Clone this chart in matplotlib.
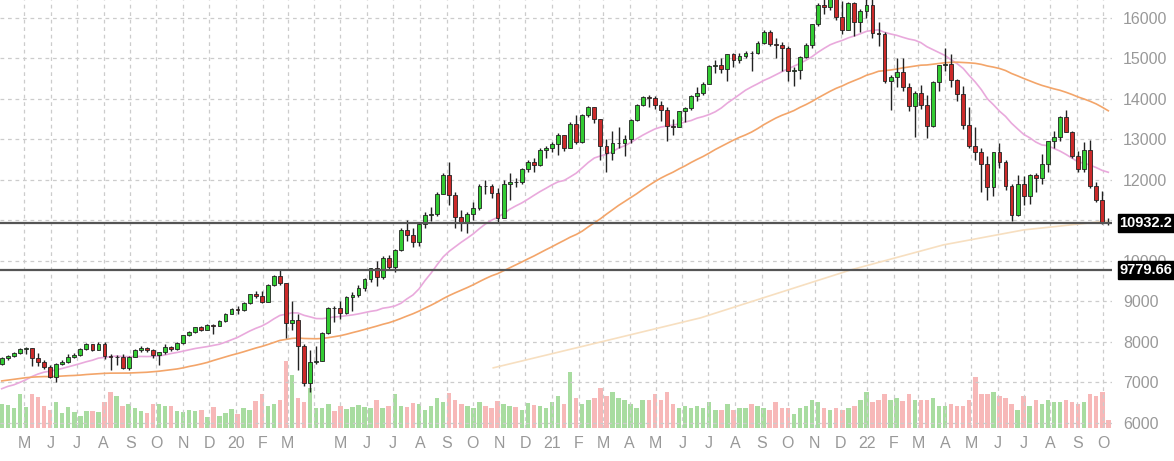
import numpy as np
import pandas as pd
import matplotlib
matplotlib.use("Agg")
import matplotlib.pyplot as plt
import matplotlib.dates as mdates

plt.rcParams["font.family"] = ["Liberation Sans", "DejaVu Sans"]

# weekly closes before the visible range (only used for the moving averages)
pre_close = [6400, 6620, 6670, 6640, 6700, 6900, 6860, 6940, 7050, 7100, 7200, 7180, 7040,
             7210, 7380, 7360, 7240, 7330, 7330, 7300, 7390, 7600, 7400, 7480, 7480, 7630,
             7360, 7100, 7030, 6900, 6990, 7000, 6800, 6500, 6950, 6620, 6550, 6000, 6280,
             6460, 6630, 6830, 6800, 6840, 6850, 7000, 7050, 7070, 6900, 7290, 7250, 7380]

first_open = 7450
close = [
    # 2019
    7590, 7650, 7730, 7830, 7850, 7600, 7510, 7380, 7130, 7460, 7500, 7630, 7670,
    7830, 7940, 7810, 7940, 7660, 7620, 7630, 7360, 7630, 7790, 7850, 7800, 7680,
    7740, 7870, 7830, 7980, 8160, 8250, 8360, 8300, 8410, 8400, 8510, 8690, 8800,
    # 2020
    8790, 8950, 9170, 9130, 8990, 9400, 9620, 9450, 8460, 8530, 7900, 6990, 7500,
    7530, 8230, 8830, 8830, 8720, 9120, 9150, 9320, 9550, 9820, 9590, 10060, 9850,
    10280, 10770, 10650, 10460, 10900, 11140, 11160, 11650, 12110, 11620, 11090, 10940, 11150,
    11300, 11850, 11850, 11670, 11050, 11900, 11940, 11940, 12260, 12450, 12380, 12750, 12800,
    # 2021
    12890, 13100, 12800, 13370, 12930, 13600, 13800, 13500, 12850, 12670, 12900, 12910, 13020,
    13480, 13850, 14040, 14020, 13860, 13720, 13330, 13310, 13690, 13770, 14070, 14140, 14370,
    14810, 14850, 14730, 15100, 14960, 15070, 15140, 15130, 15370, 15650, 15350, 15340, 15250,
    14690, 14720, 15040, 15340, 15850, 16330, 16280, 16570, 16030, 15710, 16360, 15900, 16160, 16320,
    # 2022
    15620, 15610, 14440, 14540, 14670, 14290, 13820, 14140, 13840, 13320, 14420, 14840,
    14860, 14460, 14110, 13350, 12850, 12690, 12390, 11830, 12680, 12440, 11840, 11130, 11900,
    11600, 12130, 12040, 12400, 12950, 13050, 13560, 13190, 12600, 12270, 12730, 11860, 11500, 10970,
    10932,
]
high = [
    7620, 7680, 7760, 7850, 7880, 7860, 7720, 7560, 7420, 7480, 7560, 7700, 7720,
    7850, 7960, 7950, 7990, 8000, 7700, 7680, 7690, 7650, 7820, 7900, 7880, 7820,
    7760, 7950, 7900, 8000, 8180, 8270, 8370, 8380, 8430, 8430, 8540, 8720, 8830,
    8880, 8980, 9190, 9260, 9250, 9430, 9650, 9780, 9460, 9000, 8700, 7950, 7800,
    7900, 8250, 8860, 8890, 9000, 9140, 9220, 9400, 9580, 9830, 10000, 10110, 10150,
    10300, 10800, 11000, 10820, 10950, 11200, 11320, 11700, 12180, 12440, 11700, 11250, 11200,
    11450, 11900, 12000, 11900, 11800, 12000, 12170, 12050, 12300, 12480, 12530, 12800, 12850,
    12930, 13150, 13120, 13420, 13600, 13620, 13820, 13810, 13500, 13000, 13200, 13300, 13100,
    13500, 13870, 14080, 14100, 14080, 13960, 13800, 13500, 13700, 13800, 14100, 14300, 14420,
    14830, 14950, 15000, 15120, 15140, 15130, 15180, 15190, 15420, 15700, 15700, 15500, 15400,
    15300, 14800, 15060, 15380, 15860, 16380, 16510, 16770, 16650, 16420, 16400, 16400, 16230, 16570,
    16460, 15900, 15650, 14600, 15000, 15000, 14400, 14200, 14350, 14100, 14450, 14850,
    15260, 15100, 14500, 14320, 13800, 13300, 12800, 12600, 12700, 12920, 12500, 11900, 12110,
    12100, 12150, 12170, 12650, 12960, 13200, 13580, 13720, 13200, 12720, 12930, 12980, 11950, 11720,
    11050,
]
low = [
    7420, 7560, 7620, 7700, 7700, 7400, 7400, 7330, 7100, 7000, 7430, 7480, 7590,
    7650, 7800, 7780, 7800, 7580, 7300, 7430, 7330, 7300, 7620, 7760, 7760, 7600,
    7440, 7700, 7780, 7790, 7950, 8140, 8220, 8260, 8290, 8200, 8380, 8500, 8680,
    8700, 8760, 8940, 9080, 8950, 8980, 9380, 9400, 8100, 8300, 7300, 6900, 6770,
    7450, 7520, 8200, 8500, 8560, 8700, 8760, 9100, 9250, 9480, 9380, 9560, 9800,
    9720, 10250, 10500, 10350, 10380, 10800, 10980, 11120, 11640, 11380, 10800, 10750, 10680,
    11000, 11250, 11650, 11550, 10950, 11050, 11500, 11820, 11900, 12190, 12200, 12350, 12550,
    12690, 12620, 12720, 12780, 12880, 12920, 13550, 13400, 12500, 12200, 12500, 12800, 12600,
    12900, 13450, 13820, 13800, 13750, 13450, 12950, 13100, 13300, 13420, 13720, 13950, 14100,
    14360, 14650, 14650, 14450, 14800, 14880, 15000, 14700, 15100, 15350, 15300, 15000, 14700,
    14450, 14320, 14500, 15000, 15270, 15800, 16100, 16200, 15950, 15600, 15700, 15550, 15650, 16000,
    15500, 15300, 14400, 13730, 14300, 14200, 13700, 13050, 13750, 13040, 13300, 14200,
    14700, 14300, 13950, 13250, 12800, 12500, 11700, 11500, 11600, 12300, 11750, 10980, 11100,
    11380, 11400, 11700, 11900, 12200, 12800, 12950, 13180, 12550, 12200, 12200, 11800, 11450, 10920,
    10880,
]
# volume, relative units
volume = [
    24, 23, 20, 34, 21, 34, 31, 22, 18, 26, 15, 21, 16,
    12, 17, 17, 16, 26, 36, 32, 22, 24, 20, 17, 15, 24,
    24, 22, 22, 17, 16, 18, 17, 18, 11, 21, 12, 15, 19,
    14, 20, 18, 27, 34, 22, 24, 28, 66, 52, 30, 26, 40,
    20, 20, 24, 17, 22, 19, 21, 23, 21, 20, 28, 20, 22,
    34, 22, 21, 25, 24, 18, 22, 30, 26, 35, 28, 24, 22,
    20, 26, 22, 20, 27, 24, 22, 21, 18, 25, 23, 22, 20,
    26, 32, 24, 55, 30, 24, 28, 30, 40, 32, 36, 30, 28,
    24, 20, 28, 28, 34, 28, 36, 24, 20, 22, 20, 22, 20,
    26, 18, 18, 24, 18, 20, 20, 24, 22, 20, 18, 26, 20,
    20, 14, 20, 22, 28, 26, 20, 18, 20, 18, 20, 22, 28, 36,
    26, 28, 34, 28, 30, 27, 34, 28, 28, 28, 30, 22,
    22, 24, 22, 22, 28, 50, 34, 34, 36, 32, 30, 24, 18,
    32, 22, 28, 24, 28, 26, 26, 28, 26, 24, 26, 34, 32, 36,
    8,
]

levels = [10932.2, 9779.66]

# 200-week average
ma200_dates = ["2020-10-25", "2021-02-03", "2021-06-22", "2021-12-13", "2022-03-30", "2022-07-01", "2022-10-07"]
ma200_vals = [7358, 7877, 8593, 9778, 10395, 10765, 10988]

dates = pd.date_range(end="2022-10-07", periods=len(close), freq="W-FRI")
x = mdates.date2num(dates)
opn = [first_open] + close[:-1]

allc = pd.Series(pre_close + close)
ma20 = allc.rolling(20).mean().values[len(pre_close):]
ma50 = allc.rolling(50).mean().values[len(pre_close):]

fig = plt.figure(figsize=(11.74, 4.61), dpi=100)
ax = fig.add_axes([0.0, 0.072, 0.947, 0.928])
ax2 = ax.twinx()
ax.set_zorder(2)
ax.patch.set_visible(False)

up_col, dn_col = "#33cc33", "#cc2a2a"
vup, vdn = "#a8dca0", "#f7b8b8"

vcol = [vup if c > o else vdn for o, c in zip(opn, close)]
ax2.bar(x, volume, width=5.2, color=vcol, zorder=1)
ax2.set_ylim(0, 425)
ax2.set_yticks([])

width = 4.4
for xi, o, h, l, c in zip(x, opn, high, low, close):
    col = up_col if c >= o else dn_col
    ax.vlines(xi, l, h, color="#222222", lw=1, zorder=3)
    ax.bar(xi, max(abs(c - o), 12), bottom=min(o, c), width=width, color=col,
           edgecolor="#222222", lw=0.6, zorder=4)

ax.plot(x, ma20, color="#e9a9dc", lw=1.2, zorder=2)
ax.plot(x, ma50, color="#f3a56a", lw=1.2, zorder=2)
ax.plot(mdates.date2num(pd.to_datetime(ma200_dates)), ma200_vals, color="#f7dfc0", lw=1.2, zorder=2)

for lv in levels:
    ax.axhline(lv, color="#555555", lw=1.6, zorder=5)

ax.set_ylim(5877, 16444)
ax.set_xlim(mdates.date2num(pd.Timestamp("2019-04-03")), mdates.date2num(pd.Timestamp("2022-10-11")))

ax.yaxis.tick_right()
ax.set_yticks(range(6000, 16001, 1000))
ax.tick_params(axis="y", length=0, labelsize=11.5, labelcolor="#999999", pad=8)

months = pd.date_range("2019-05-01", "2022-10-01", freq="MS")
labels = []
for m in months:
    if m.month == 1:
        labels.append(str(m.year)[2:])
    elif m.year == 2020 and m.month == 4:
        labels.append("")
    else:
        labels.append(m.strftime("%b")[0])
ax.set_xticks(mdates.date2num(months))
ax.set_xticklabels(labels)
ax.tick_params(axis="x", length=0, labelsize=11.5, labelcolor="#999999", pad=6)

ax.grid(True, color="#cccccc", ls=(0, (3, 3)), lw=0.9)
for s in ax.spines.values():
    s.set_visible(False)
for s in ax2.spines.values():
    s.set_visible(False)

for lv in levels:
    ax.text(1.007, lv, f"{lv:g}", transform=ax.get_yaxis_transform(), ha="left", va="center",
            color="white", fontsize=10.5, fontweight="bold", zorder=10,
            bbox=dict(boxstyle="square,pad=0.12", fc="black", ec="black"), clip_on=False)

fig.savefig("out.png", dpi=100)
